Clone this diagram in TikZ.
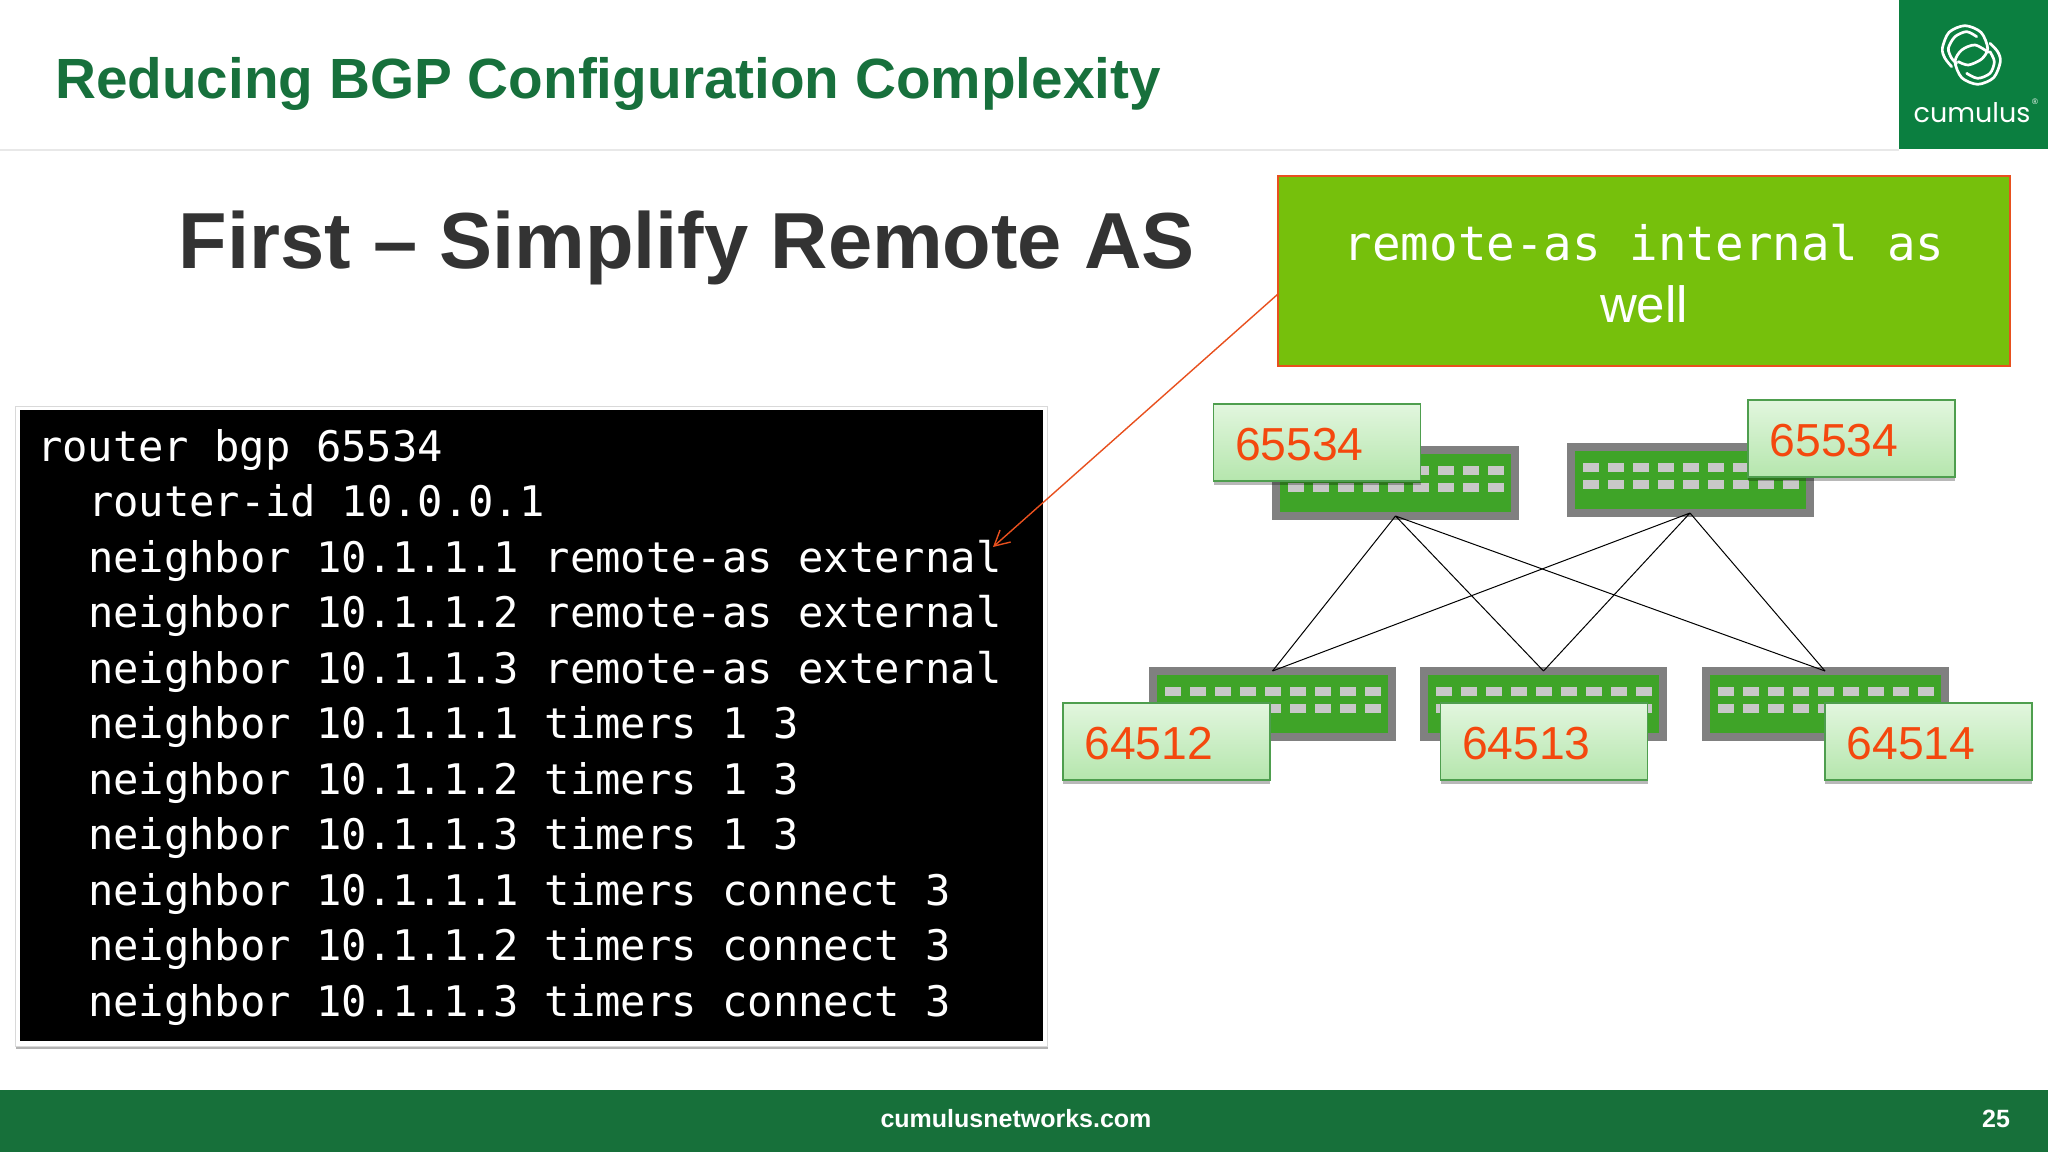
\documentclass[tikz,border=0pt]{standalone}
\usepackage{fontspec}
\setmainfont{Liberation Sans}
\newfontfamily\codefont{DejaVu Sans Mono}
\newfontfamily\logofont{Poppins}
\usetikzlibrary{shadows,arrows.meta}
\definecolor{titlegreen}{HTML}{17703C}
\definecolor{footgreen}{HTML}{17703A}
\definecolor{logogreen}{HTML}{0B7F40}
\definecolor{swgreen}{HTML}{3FA428}
\definecolor{swgrey}{HTML}{808080}
\definecolor{portgrey}{HTML}{C8C8C8}
\definecolor{numred}{HTML}{F4480E}
\definecolor{calloutgreen}{HTML}{76C00C}
\definecolor{calloutline}{HTML}{E8501E}
\definecolor{labeltop}{HTML}{E2F6DE}
\definecolor{labelbot}{HTML}{B5E6AD}
\definecolor{labelline}{HTML}{4E9E4E}
\newcommand{\fs}[1]{\fontsize{#1}{#1}\selectfont}
\tikzset{
 px/.style={x=1pt,y=-1pt},
 band/.style={draw=none,inner sep=0pt,outer sep=0pt,anchor=north west},
 switchbox/.style={band,fill=swgreen,draw=swgrey,line width=8pt,minimum width=239pt,minimum height=66pt},
 asbox/.style={band,top color=labeltop,bottom color=labelbot,draw=labelline,line width=1.2pt,
   minimum width=207pt,minimum height=77pt,text width=164pt,align=left,text=numred,
   text height=35pt,text depth=0pt,
   font=\fs{46.3},drop shadow={shadow xshift=0pt,shadow yshift=-4pt,opacity=.28,fill=black}},
 link/.style={draw=black,line width=1pt},
 port/.style={fill=portgrey,draw=none},
 codeline/.style={anchor=base west,inner sep=0pt,outer sep=0pt,text=white,font=\codefont\fs{42.15}},
 logoarc/.style={draw=white,line width=2.7pt,line cap=round},
}
\begin{document}
\begin{tikzpicture}[px]
\useasboundingbox (0,0) rectangle (2048,1152);
\fill[white] (0,0) rectangle (2048,1152);
% header
\fill[black!9] (0,149) rectangle (1899,150.5);
\node[band,fill=logogreen,minimum width=149pt,minimum height=149pt] (logo) at (1899,0) {};
\begin{scope}[shift={(1925,15)},x=.3333pt,y=-.3333pt]
\draw[logoarc] plot[smooth] coordinates {(80,155) (60,130) (52,100) (72,52) (120,32) (168,52) (188,100) (170,132) (130,150) (100,140)};
\draw[logoarc] plot[smooth] coordinates {(195,85) (218,110) (226,140) (206,188) (158,208) (110,188) (90,140) (110,105) (150,90) (190,112)};
\draw[logoarc] plot[smooth] coordinates {(155,65) (125,50) (90,65) (70,100) (80,130) (95,145)};
\draw[logoarc] plot[smooth] coordinates {(125,175) (158,190) (195,175) (208,140) (195,110)};
\end{scope}
\node[anchor=base,inner sep=0pt,text=white,font=\logofont\fs{27}] (logotext) at (1972,122) {cumulus};
\node[anchor=center,inner sep=0pt,text=white,font=\fs{8}] (logoreg) at (2035,102) {®};
\node[anchor=base west,inner sep=0pt,text=titlegreen,font=\bfseries\fs{56.7}] (title) at (55,98) {Reducing BGP Configuration Complexity};
\node[anchor=base west,inner sep=0pt,text=black!80,font=\bfseries\fs{79.5}] (sub) at (178.5,268) {First – Simplify Remote AS};
% footer
\node[band,fill=footgreen,minimum width=2048pt,minimum height=62pt] (foot) at (0,1090) {};
\node[anchor=base,inner sep=0pt,text=white,font=\bfseries\fs{25}] (site) at (1016,1127) {cumulusnetworks.com};
\node[anchor=base,inner sep=0pt,text=white,font=\bfseries\fs{25}] (page) at (1996,1127) {25};
% code panel
\node[band,fill=white,draw=black!15,line width=1pt,minimum width=1032pt,minimum height=640pt,
   drop shadow={shadow xshift=1pt,shadow yshift=-3pt,opacity=.3,fill=black}] (frame) at (15,406) {};
\node[band,fill=black,minimum width=1023pt,minimum height=631pt] (panel) at (20,410) {};
\foreach \i/\xx/\t in {0/37/router bgp 65534,1/88/router-id 10.0.0.1,
  2/88/neighbor 10.1.1.1 remote-as external,3/88/neighbor 10.1.1.2 remote-as external,
  4/88/neighbor 10.1.1.3 remote-as external,5/88/neighbor 10.1.1.1 timers 1 3,
  6/88/neighbor 10.1.1.2 timers 1 3,7/88/neighbor 10.1.1.3 timers 1 3,
  8/88/neighbor 10.1.1.1 timers connect 3,9/88/neighbor 10.1.1.2 timers connect 3,
  10/88/neighbor 10.1.1.3 timers connect 3}
  \node[codeline] (code\i) at (\xx,{461+55.5*\i}) {\t};
% callout
\node[band,fill=calloutgreen,draw=calloutline,line width=1.5pt,minimum width=732pt,minimum height=190pt] (callout) at (1278,176) {};
\node[inner sep=0pt,text=white,align=center,font=\fs{47}] (callouttext) at ([yshift=-2.5pt]callout.center)
  {{\codefont\fs{47.5}remote-as internal as}\\[15pt]{\fs{51}well}};
\coordinate (tip) at (993,547);
\draw[calloutline,line width=1.4pt,-{Straight Barb[length=15pt,width=16pt]}] ([yshift=-23pt]callout.west) -- (tip);
% switches
\foreach \n/\xx/\yy in {swa/1276/450,swb/1570.5/447,swc/1153/671,swd/1424/671,swe/1705.5/671}{
  \node[switchbox] (\n) at (\xx,\yy) {};
  \foreach \k in {0,...,8}{
    \fill[port] ({\xx+12+25*\k},{\yy+16}) rectangle +(16,9);
    \fill[port] ({\xx+12+25*\k},{\yy+33}) rectangle +(16,9);
  }
}
\draw[link] (swa.south) -- (swc.north) (swa.south) -- (swd.north) (swa.south) -- (swe.north);
\draw[link] (swb.south) -- (swc.north) (swb.south) -- (swd.north) (swb.south) -- (swe.north);
% AS labels
\node[asbox] (asa) at (1213.5,404) {65534};
\node[asbox] (asb) at (1748,400) {65534};
\node[asbox] (asc) at (1063,703) {64512};
\node[asbox] (asd) at (1440.5,703) {64513};
\node[asbox] (ase) at (1825,703) {64514};
\end{tikzpicture}
\end{document}
